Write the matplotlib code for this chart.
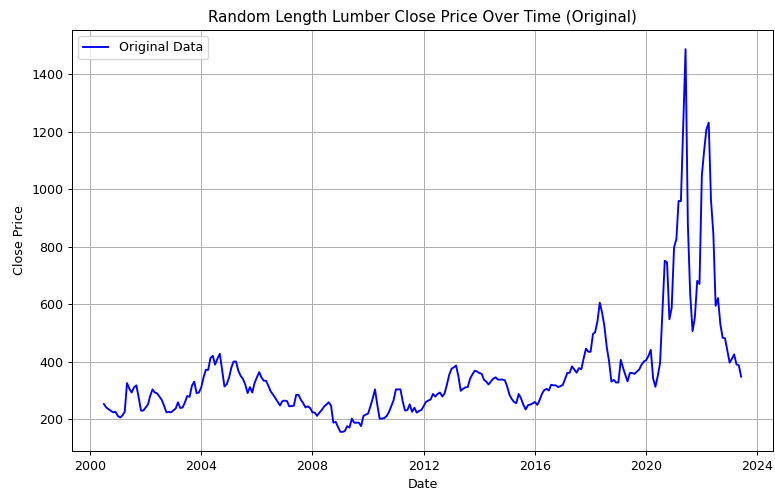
import pandas as pd
import matplotlib
matplotlib.use("Agg")
import matplotlib.pyplot as plt

# monthly close prices, Jul 2000 .. Jun 2023
start_month = "2000-07-01"
prices_2000 = [252, 240, 234, 228, 223, 225]
prices_2001 = [210, 205, 212, 225, 325, 305, 292, 310, 317, 275, 229, 229]
prices_2002 = [240, 251, 280, 303, 292, 289, 278, 266, 245, 223, 225, 223]
prices_2003 = [230, 237, 258, 238, 240, 258, 280, 277, 316, 330, 290, 292]
prices_2004 = [310, 345, 371, 371, 412, 420, 389, 410, 427, 370, 313, 321]
prices_2005 = [345, 380, 400, 400, 369, 350, 340, 320, 290, 311, 292, 325]
prices_2006 = [345, 363, 345, 333, 333, 315, 296, 285, 272, 260, 247, 262]
prices_2007 = [264, 262, 244, 245, 246, 284, 284, 267, 255, 240, 244, 238]
prices_2008 = [223, 222, 211, 222, 231, 243, 250, 258, 246, 187, 190, 172]
prices_2009 = [155, 155, 158, 175, 170, 201, 187, 187, 187, 175, 211, 215]
prices_2010 = [219, 245, 270, 303, 250, 201, 201, 203, 210, 224, 245, 265]
prices_2011 = [303, 303, 303, 260, 229, 231, 251, 225, 239, 222, 228, 231]
prices_2012 = [245, 260, 264, 268, 287, 278, 287, 292, 278, 289, 320, 354]
prices_2013 = [375, 380, 386, 348, 298, 305, 310, 311, 340, 355, 368, 365]
prices_2014 = [360, 357, 337, 330, 320, 330, 340, 345, 337, 337, 337, 335]
prices_2015 = [313, 284, 270, 259, 255, 287, 272, 250, 233, 248, 250, 254]
prices_2016 = [259, 249, 265, 287, 300, 305, 299, 319, 317, 317, 311, 314]
prices_2017 = [319, 340, 360, 361, 383, 372, 361, 377, 373, 410, 445, 434]
prices_2018 = [434, 496, 502, 540, 605, 570, 523, 450, 400, 330, 336, 327]
prices_2019 = [327, 406, 380, 354, 331, 360, 360, 357, 365, 372, 389, 400]
prices_2020 = [405, 420, 441, 341, 312, 350, 394, 570, 751, 745, 547, 588]
prices_2021 = [798, 827, 959, 959, 1220, 1488, 880, 634, 506, 553, 681, 670]
prices_2022 = [1049, 1137, 1207, 1232, 962, 845, 594, 621, 530, 483, 481, 440]
prices_2023 = [396, 410, 425, 390, 387, 347]

close = (prices_2000 + prices_2001 + prices_2002 + prices_2003 + prices_2004
         + prices_2005 + prices_2006 + prices_2007 + prices_2008 + prices_2009
         + prices_2010 + prices_2011 + prices_2012 + prices_2013 + prices_2014
         + prices_2015 + prices_2016 + prices_2017 + prices_2018 + prices_2019
         + prices_2020 + prices_2021 + prices_2022 + prices_2023)
dates = pd.date_range(start_month, periods=len(close), freq="MS")

df = pd.DataFrame({"Date": dates, "Close": close})

# the reference looks like a 10x6 figure shrunk to ~0.9, so scale everything
s = 0.905
plt.rcParams.update({
    "font.size": 10 * s,
    "axes.titlesize": 12 * s,
    "axes.linewidth": 0.8 * s,
    "grid.linewidth": 0.8 * s,
    "xtick.major.size": 3.5 * s,
    "ytick.major.size": 3.5 * s,
    "xtick.major.pad": 3.5 * s,
    "ytick.major.pad": 3.5 * s,
    "xtick.major.width": 0.8 * s,
    "ytick.major.width": 0.8 * s,
})

fig = plt.figure(figsize=(7.75, 4.91), dpi=100)
ax = fig.add_axes([72 / 775, 40 / 491, 701 / 775, 421 / 491])
ax.plot(df["Date"], df["Close"], color="blue", linewidth=1.5 * s, label="Original Data")
ax.set_title("Random Length Lumber Close Price Over Time (Original)", pad=6 * s)
ax.set_xlabel("Date", labelpad=4 * s)
ax.set_ylabel("Close Price", labelpad=4 * s)
ax.legend(loc="upper left")
ax.grid(True)
fig.savefig("out.png", dpi=100)
